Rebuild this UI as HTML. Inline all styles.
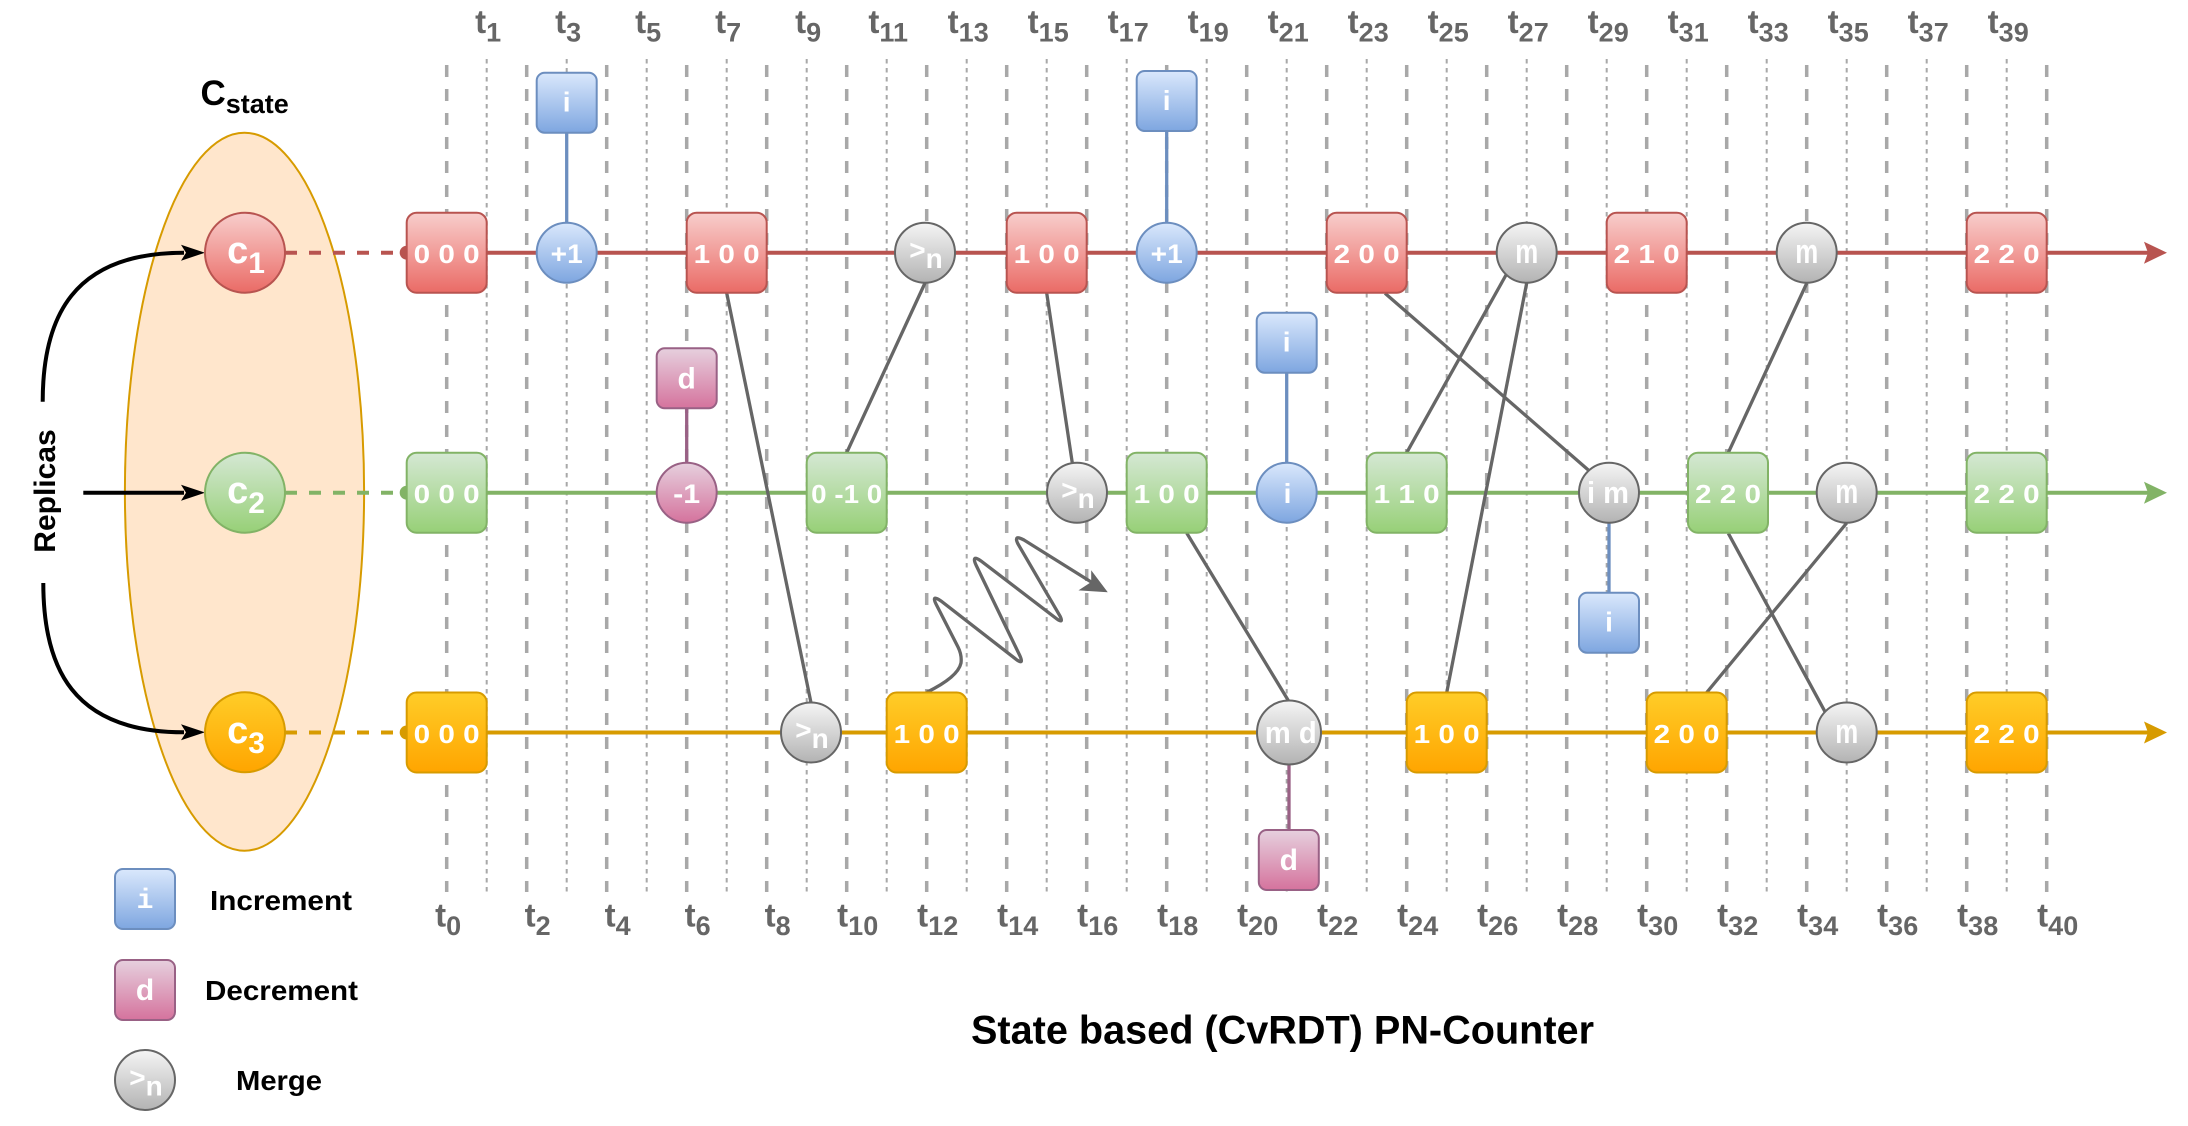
<!DOCTYPE html>
<html><head><meta charset="utf-8"><title>State based (CvRDT) PN-Counter</title>
<style>
html,body{margin:0;padding:0;background:#fff;}
svg{display:block;}
text{font-family:"Liberation Sans",Arial,sans-serif;font-weight:bold;}
.w{fill:#fff;}
.lbl{fill:#666;font-size:33px;}
.bx{font-size:26px;fill:#fff;}
.mono{font-family:"Liberation Mono","DejaVu Sans Mono",monospace;font-weight:bold;fill:#fff;font-size:28px;}
</style></head><body>
<svg width="2188" height="1126" viewBox="0 0 2188 1126" xmlns="http://www.w3.org/2000/svg">
<defs>
<linearGradient id="gR" x1="0" y1="0" x2="0" y2="1"><stop offset="0" stop-color="#f8cecc"/><stop offset="1" stop-color="#ea6b66"/></linearGradient>
<linearGradient id="gG" x1="0" y1="0" x2="0" y2="1"><stop offset="0" stop-color="#d5e8d4"/><stop offset="1" stop-color="#97d077"/></linearGradient>
<linearGradient id="gO" x1="0" y1="0" x2="0" y2="1"><stop offset="0" stop-color="#ffcd28"/><stop offset="1" stop-color="#ffa500"/></linearGradient>
<linearGradient id="gB" x1="0" y1="0" x2="0" y2="1"><stop offset="0" stop-color="#dae8fc"/><stop offset="1" stop-color="#7ea6e0"/></linearGradient>
<linearGradient id="gP" x1="0" y1="0" x2="0" y2="1"><stop offset="0" stop-color="#e6d0de"/><stop offset="1" stop-color="#d5739d"/></linearGradient>
<linearGradient id="gM" x1="0" y1="0" x2="0" y2="1"><stop offset="0" stop-color="#f5f5f5"/><stop offset="1" stop-color="#b3b3b3"/></linearGradient>
</defs>

<!-- C_state ellipse -->
<ellipse cx="244.5" cy="491.7" rx="119.6" ry="359" fill="#ffe6cc" stroke="#d79b00" stroke-width="2"/>
<text x="244.6" y="105" text-anchor="middle" font-size="35" fill="#000">C<tspan font-size="27" dy="8">state</tspan></text>

<!-- vertical dashed time lines -->
<path fill="none" stroke="#a8a8a8" stroke-width="3.5" stroke-dasharray="12 12" d="M446.7 65V892M526.7 65V892M606.7 65V892M686.7 65V892M766.7 65V892M846.7 65V892M926.7 65V892M1006.7 65V892M1086.7 65V892M1166.7 65V892M1246.7 65V892M1326.7 65V892M1406.7 65V892M1486.7 65V892M1566.7 65V892M1646.7 65V892M1726.7 65V892M1806.7 65V892M1886.7 65V892M1966.7 65V892M2046.7 65V892"/>
<path fill="none" stroke="#a8a8a8" stroke-width="2" stroke-dasharray="4.5 4.5" d="M486.7 59V892M566.7 59V892M646.7 59V892M726.7 59V892M806.7 59V892M886.7 59V892M966.7 59V892M1046.7 59V892M1126.7 59V892M1206.7 59V892M1286.7 59V892M1366.7 59V892M1446.7 59V892M1526.7 59V892M1606.7 59V892M1686.7 59V892M1766.7 59V892M1846.7 59V892M1926.7 59V892M2006.7 59V892"/>

<!-- top labels -->
<g class="lbl" text-anchor="middle">
<text x="488.2" y="33">t<tspan font-size="27" dy="8.5">1</tspan></text>
<text x="568.2" y="33">t<tspan font-size="27" dy="8.5">3</tspan></text>
<text x="648.2" y="33">t<tspan font-size="27" dy="8.5">5</tspan></text>
<text x="728.2" y="33">t<tspan font-size="27" dy="8.5">7</tspan></text>
<text x="808.2" y="33">t<tspan font-size="27" dy="8.5">9</tspan></text>
<text x="888.2" y="33">t<tspan font-size="27" dy="8.5">11</tspan></text>
<text x="968.2" y="33">t<tspan font-size="27" dy="8.5">13</tspan></text>
<text x="1048.2" y="33">t<tspan font-size="27" dy="8.5">15</tspan></text>
<text x="1128.2" y="33">t<tspan font-size="27" dy="8.5">17</tspan></text>
<text x="1208.2" y="33">t<tspan font-size="27" dy="8.5">19</tspan></text>
<text x="1288.2" y="33">t<tspan font-size="27" dy="8.5">21</tspan></text>
<text x="1368.2" y="33">t<tspan font-size="27" dy="8.5">23</tspan></text>
<text x="1448.2" y="33">t<tspan font-size="27" dy="8.5">25</tspan></text>
<text x="1528.2" y="33">t<tspan font-size="27" dy="8.5">27</tspan></text>
<text x="1608.2" y="33">t<tspan font-size="27" dy="8.5">29</tspan></text>
<text x="1688.2" y="33">t<tspan font-size="27" dy="8.5">31</tspan></text>
<text x="1768.2" y="33">t<tspan font-size="27" dy="8.5">33</tspan></text>
<text x="1848.2" y="33">t<tspan font-size="27" dy="8.5">35</tspan></text>
<text x="1928.2" y="33">t<tspan font-size="27" dy="8.5">37</tspan></text>
<text x="2008.2" y="33">t<tspan font-size="27" dy="8.5">39</tspan></text>
</g>
<!-- bottom labels -->
<g class="lbl" text-anchor="middle">
<text x="448.2" y="926.7">t<tspan font-size="27" dy="8.5">0</tspan></text>
<text x="537.7" y="926.7">t<tspan font-size="27" dy="8.5">2</tspan></text>
<text x="617.7" y="926.7">t<tspan font-size="27" dy="8.5">4</tspan></text>
<text x="697.7" y="926.7">t<tspan font-size="27" dy="8.5">6</tspan></text>
<text x="777.7" y="926.7">t<tspan font-size="27" dy="8.5">8</tspan></text>
<text x="857.7" y="926.7">t<tspan font-size="27" dy="8.5">10</tspan></text>
<text x="937.7" y="926.7">t<tspan font-size="27" dy="8.5">12</tspan></text>
<text x="1017.7" y="926.7">t<tspan font-size="27" dy="8.5">14</tspan></text>
<text x="1097.7" y="926.7">t<tspan font-size="27" dy="8.5">16</tspan></text>
<text x="1177.7" y="926.7">t<tspan font-size="27" dy="8.5">18</tspan></text>
<text x="1257.7" y="926.7">t<tspan font-size="27" dy="8.5">20</tspan></text>
<text x="1337.7" y="926.7">t<tspan font-size="27" dy="8.5">22</tspan></text>
<text x="1417.7" y="926.7">t<tspan font-size="27" dy="8.5">24</tspan></text>
<text x="1497.7" y="926.7">t<tspan font-size="27" dy="8.5">26</tspan></text>
<text x="1577.7" y="926.7">t<tspan font-size="27" dy="8.5">28</tspan></text>
<text x="1657.7" y="926.7">t<tspan font-size="27" dy="8.5">30</tspan></text>
<text x="1737.7" y="926.7">t<tspan font-size="27" dy="8.5">32</tspan></text>
<text x="1817.7" y="926.7">t<tspan font-size="27" dy="8.5">34</tspan></text>
<text x="1897.7" y="926.7">t<tspan font-size="27" dy="8.5">36</tspan></text>
<text x="1977.7" y="926.7">t<tspan font-size="27" dy="8.5">38</tspan></text>
<text x="2057.7" y="926.7">t<tspan font-size="27" dy="8.5">40</tspan></text>
</g>

<!-- replica timelines -->
<line x1="285" y1="252.7" x2="405" y2="252.7" stroke="#b85450" stroke-width="4" stroke-dasharray="12 12"/>
<circle cx="406.7" cy="252.7" r="7" fill="#b85450"/>
<line x1="440" y1="252.7" x2="2148" y2="252.7" stroke="#b85450" stroke-width="4"/>
<polygon points="2167,252.7 2144,241.7 2148,252.7 2144,263.7" fill="#b85450"/>

<line x1="285" y1="492.7" x2="405" y2="492.7" stroke="#82b366" stroke-width="4" stroke-dasharray="12 12"/>
<circle cx="406.7" cy="492.7" r="7" fill="#82b366"/>
<line x1="440" y1="492.7" x2="2148" y2="492.7" stroke="#82b366" stroke-width="4"/>
<polygon points="2167,492.7 2144,481.7 2148,492.7 2144,503.7" fill="#82b366"/>

<line x1="285" y1="732.5" x2="405" y2="732.5" stroke="#d79b00" stroke-width="4" stroke-dasharray="12 12"/>
<circle cx="406.7" cy="732.5" r="7" fill="#d79b00"/>
<line x1="440" y1="732.5" x2="2148" y2="732.5" stroke="#d79b00" stroke-width="4"/>
<polygon points="2167,732.5 2144,721.5 2148,732.5 2144,743.5" fill="#d79b00"/>

<!-- Replicas arrows -->
<path d="M42.7,401.7 C42.7,318 72,252.7 184,252.7" fill="none" stroke="#000" stroke-width="4"/>
<polygon points="205,252.7 181,244.7 186,252.7 181,260.7" fill="#000"/>
<line x1="83.3" y1="492.7" x2="184" y2="492.7" stroke="#000" stroke-width="4"/>
<polygon points="205,492.7 181,484.7 186,492.7 181,500.7" fill="#000"/>
<path d="M43.3,583 C43.3,667 72,732.3 184,732.3" fill="none" stroke="#000" stroke-width="4"/>
<polygon points="205,732.3 181,724.3 186,732.3 181,740.3" fill="#000"/>
<text transform="rotate(-90 55 491)" x="55" y="491" text-anchor="middle" font-size="30" fill="#000">Replicas</text>

<!-- replica circles -->
<circle cx="245" cy="252.7" r="40" fill="url(#gR)" stroke="#b85450" stroke-width="2"/>
<text x="246" y="263.2" text-anchor="middle" font-size="38" class="w">c<tspan font-size="30" dy="10">1</tspan></text>
<circle cx="245" cy="492.7" r="40" fill="url(#gG)" stroke="#82b366" stroke-width="2"/>
<text x="246" y="503.2" text-anchor="middle" font-size="38" class="w">c<tspan font-size="30" dy="10">2</tspan></text>
<circle cx="245" cy="732.3" r="40" fill="url(#gO)" stroke="#d79b00" stroke-width="2"/>
<text x="246" y="742.8" text-anchor="middle" font-size="38" class="w">c<tspan font-size="30" dy="10">3</tspan></text>

<!-- merge connectors -->
<g stroke="#666" stroke-width="3.3" fill="none">
<line x1="726.7" y1="293" x2="811" y2="702.7"/>
<line x1="846.7" y1="452.7" x2="925" y2="283"/>
<line x1="1046.7" y1="293" x2="1072.3" y2="463"/>
<line x1="1186.7" y1="533" x2="1288.3" y2="700.5"/>
<line x1="1385" y1="293.3" x2="1588.3" y2="470"/>
<line x1="1406.7" y1="452.7" x2="1506" y2="275"/>
<line x1="1446.7" y1="692.7" x2="1526.7" y2="283"/>
<line x1="1806.7" y1="283.3" x2="1728.3" y2="452.7"/>
<line x1="1728.3" y1="533.3" x2="1825" y2="711.7"/>
<line x1="1706.7" y1="692.5" x2="1846.7" y2="523"/>
<path d="M926.7,692.3 Q958,677 961,663 Q962,655 958,647 L936,604 Q931,594 941,601 L1017,660 Q1024,665 1020,656 L976,565 Q971,554 981,561 L1057,619 Q1064,624 1060,616 L1018,544 Q1013,534 1024,540 L1092,582.5"/>
</g>
<polygon points="1106.7,591.7 1091.7,571.7 1091.7,582.3 1080,590" fill="#666" stroke="#666" stroke-width="1"/>

<!-- op connectors -->
<g stroke-width="3.3">
<line x1="566.7" y1="132.7" x2="566.7" y2="223" stroke="#6c8ebf"/>
<line x1="1166.7" y1="131" x2="1166.7" y2="223" stroke="#6c8ebf"/>
<line x1="1286.7" y1="372.7" x2="1286.7" y2="463" stroke="#6c8ebf"/>
<line x1="1609" y1="522.7" x2="1609" y2="592.7" stroke="#6c8ebf"/>
<line x1="686.7" y1="408.3" x2="686.7" y2="463" stroke="#996185"/>
<line x1="1289" y1="764.5" x2="1289" y2="830" stroke="#996185"/>
</g>

<!-- RED ROW -->
<g stroke="#b85450" stroke-width="2" fill="url(#gR)">
<rect x="406.7" y="212.7" width="80" height="80" rx="10"/>
<rect x="686.7" y="212.7" width="80" height="80" rx="10"/>
<rect x="1006.7" y="212.7" width="80" height="80" rx="10"/>
<rect x="1326.7" y="212.7" width="80" height="80" rx="10"/>
<rect x="1606.7" y="212.7" width="80" height="80" rx="10"/>
<rect x="1966.7" y="212.7" width="80" height="80" rx="10"/>
</g>
<g class="bx" text-anchor="middle">
<text x="446.7" y="263.2" textLength="66" lengthAdjust="spacingAndGlyphs">0 0 0</text>
<text x="726.7" y="263.2" textLength="66" lengthAdjust="spacingAndGlyphs">1 0 0</text>
<text x="1046.7" y="263.2" textLength="66" lengthAdjust="spacingAndGlyphs">1 0 0</text>
<text x="1366.7" y="263.2" textLength="66" lengthAdjust="spacingAndGlyphs">2 0 0</text>
<text x="1646.7" y="263.2" textLength="66" lengthAdjust="spacingAndGlyphs">2 1 0</text>
<text x="2006.7" y="263.2" textLength="66" lengthAdjust="spacingAndGlyphs">2 2 0</text>
</g>

<!-- GREEN ROW -->
<g stroke="#82b366" stroke-width="2" fill="url(#gG)">
<rect x="406.7" y="452.7" width="80" height="80" rx="10"/>
<rect x="806.7" y="452.7" width="80" height="80" rx="10"/>
<rect x="1126.7" y="452.7" width="80" height="80" rx="10"/>
<rect x="1366.7" y="452.7" width="80" height="80" rx="10"/>
<rect x="1688" y="452.7" width="80" height="80" rx="10"/>
<rect x="1966.7" y="452.7" width="80" height="80" rx="10"/>
</g>
<g class="bx" text-anchor="middle">
<text x="446.7" y="503.2" textLength="66" lengthAdjust="spacingAndGlyphs">0 0 0</text>
<text x="846.7" y="503.2" textLength="71" lengthAdjust="spacingAndGlyphs">0 -1 0</text>
<text x="1166.7" y="503.2" textLength="66" lengthAdjust="spacingAndGlyphs">1 0 0</text>
<text x="1406.7" y="503.2" textLength="66" lengthAdjust="spacingAndGlyphs">1 1 0</text>
<text x="1728" y="503.2" textLength="66" lengthAdjust="spacingAndGlyphs">2 2 0</text>
<text x="2006.7" y="503.2" textLength="66" lengthAdjust="spacingAndGlyphs">2 2 0</text>
</g>

<!-- ORANGE ROW -->
<g stroke="#d79b00" stroke-width="2" fill="url(#gO)">
<rect x="406.7" y="692.5" width="80" height="80" rx="10"/>
<rect x="886.7" y="692.5" width="80" height="80" rx="10"/>
<rect x="1406.7" y="692.5" width="80" height="80" rx="10"/>
<rect x="1646.7" y="692.5" width="80" height="80" rx="10"/>
<rect x="1966.7" y="692.5" width="80" height="80" rx="10"/>
</g>
<g class="bx" text-anchor="middle">
<text x="446.7" y="743" textLength="66" lengthAdjust="spacingAndGlyphs">0 0 0</text>
<text x="926.7" y="743" textLength="66" lengthAdjust="spacingAndGlyphs">1 0 0</text>
<text x="1446.7" y="743" textLength="66" lengthAdjust="spacingAndGlyphs">1 0 0</text>
<text x="1686.7" y="743" textLength="66" lengthAdjust="spacingAndGlyphs">2 0 0</text>
<text x="2006.7" y="743" textLength="66" lengthAdjust="spacingAndGlyphs">2 2 0</text>
</g>

<!-- blue increment circles -->
<g fill="url(#gB)" stroke="#6c8ebf" stroke-width="2">
<circle cx="566.7" cy="252.7" r="30"/>
<circle cx="1166.7" cy="252.7" r="30"/>
<circle cx="1286.7" cy="492.7" r="30"/>
</g>
<text x="566.7" y="263.2" text-anchor="middle" font-size="27" class="w" textLength="32" lengthAdjust="spacingAndGlyphs">+1</text>
<text x="1166.7" y="263.2" text-anchor="middle" font-size="27" class="w" textLength="32" lengthAdjust="spacingAndGlyphs">+1</text>
<text x="1287.5" y="503.2" text-anchor="middle" font-size="28" class="w">i</text>

<!-- pink decrement circle -->
<circle cx="686.7" cy="492.7" r="30" fill="url(#gP)" stroke="#996185" stroke-width="2"/>
<text x="686.7" y="503.2" text-anchor="middle" font-size="27" class="w" textLength="27" lengthAdjust="spacingAndGlyphs">-1</text>

<!-- merge circles -->
<g fill="url(#gM)" stroke="#666" stroke-width="2">
<circle cx="925" cy="252.7" r="30"/>
<circle cx="1526.7" cy="252.7" r="30"/>
<circle cx="1806.7" cy="252.7" r="30"/>
<circle cx="1077" cy="492.7" r="30"/>
<circle cx="1609" cy="492.7" r="30"/>
<circle cx="1846.7" cy="492.7" r="30"/>
<circle cx="811" cy="732.5" r="30"/>
<circle cx="1289" cy="732.5" r="32"/>
<circle cx="1846.7" cy="732.5" r="30"/>
</g>
<g class="w" text-anchor="middle">
<text x="926" y="259.7" font-size="28">&gt;<tspan dy="8.5">n</tspan></text>
<text x="1078" y="499.7" font-size="28">&gt;<tspan dy="8.5">n</tspan></text>
<text x="812" y="739.5" font-size="28">&gt;<tspan dy="8.5">n</tspan></text>
<text x="1526.7" y="263.2" font-size="34" textLength="23" lengthAdjust="spacingAndGlyphs">m</text>
<text x="1806.7" y="263.2" font-size="34" textLength="23" lengthAdjust="spacingAndGlyphs">m</text>
<text x="1846.7" y="503.2" font-size="34" textLength="23" lengthAdjust="spacingAndGlyphs">m</text>
<text x="1846.7" y="743" font-size="34" textLength="23" lengthAdjust="spacingAndGlyphs">m</text>
<text x="1608" y="503.2" font-size="31" textLength="42" lengthAdjust="spacingAndGlyphs">i m</text>
<text x="1290.8" y="743" font-size="31" textLength="52" lengthAdjust="spacingAndGlyphs">m d</text>
</g>

<!-- op boxes -->
<g fill="url(#gB)" stroke="#6c8ebf" stroke-width="2">
<rect x="536.7" y="72.7" width="60" height="60" rx="8"/>
<rect x="1136.7" y="71" width="60" height="60" rx="8"/>
<rect x="1256.7" y="312.7" width="60" height="60" rx="8"/>
<rect x="1579" y="592.7" width="60" height="60" rx="8"/>
</g>
<g class="mono" text-anchor="middle">
<text x="566.7" y="111.7">i</text>
<text x="1166.7" y="110">i</text>
<text x="1286.7" y="351.7">i</text>
<text x="1609" y="631.7">i</text>
</g>
<g fill="url(#gP)" stroke="#996185" stroke-width="2">
<rect x="656.7" y="348.3" width="60" height="60" rx="8"/>
<rect x="1258.8" y="830" width="60" height="60" rx="8"/>
</g>
<g class="w" text-anchor="middle" font-size="30">
<text x="686.7" y="388.3">d</text>
<text x="1288.8" y="870">d</text>
</g>

<!-- legend -->
<rect x="115" y="869" width="60" height="60" rx="8" fill="url(#gB)" stroke="#6c8ebf" stroke-width="2"/>
<text x="145" y="908" text-anchor="middle" class="mono">i</text>
<text x="210" y="910" font-size="28" fill="#000" textLength="142" lengthAdjust="spacingAndGlyphs">Increment</text>
<rect x="115" y="960" width="60" height="60" rx="8" fill="url(#gP)" stroke="#996185" stroke-width="2"/>
<text x="145" y="1000" text-anchor="middle" font-size="30" class="w">d</text>
<text x="205" y="1000" font-size="28" fill="#000" textLength="153" lengthAdjust="spacingAndGlyphs">Decrement</text>
<circle cx="145" cy="1080" r="30" fill="url(#gM)" stroke="#666" stroke-width="2"/>
<text x="146" y="1087" text-anchor="middle" font-size="28" class="w">&gt;<tspan dy="8.5">n</tspan></text>
<text x="236" y="1090" font-size="28" fill="#000" textLength="86" lengthAdjust="spacingAndGlyphs">Merge</text>

<!-- title -->
<text x="1282.5" y="1043.3" text-anchor="middle" font-size="40" fill="#000" textLength="623" lengthAdjust="spacingAndGlyphs">State based (CvRDT) PN-Counter</text>
</svg>
</body></html>
